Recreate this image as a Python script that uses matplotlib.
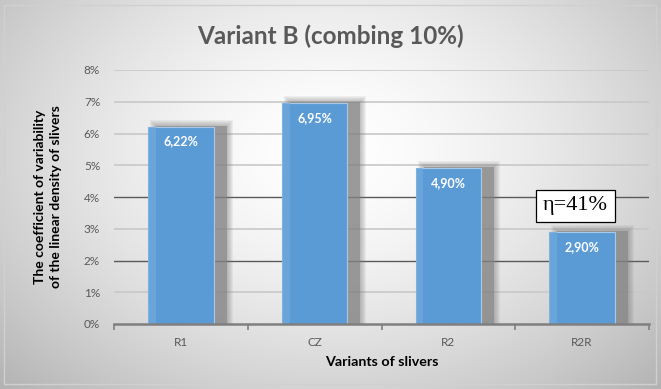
import numpy as np
import matplotlib
matplotlib.use("Agg")
import matplotlib.pyplot as plt
from matplotlib.patches import Rectangle

# Data
categories = ["R1", "CZ", "R2", "R2R"]
values = [6.22, 6.95, 4.90, 2.90]          # percent
value_labels = ["6,22%", "6,95%", "4,90%", "2,90%"]
yticks = [0, 1, 2, 3, 4, 5, 6, 7, 8]
ytick_labels = [f"{v}%" for v in yticks]
title = "Variant B (combing 10%)"
xlabel = "Variants of slivers"
ylabel = "The coefficient of variability\nof the linear density of slivers"
note_text = "η=41%"
note_pos = (3.0, 3.72)

W, H = 661, 389
fig = plt.figure(figsize=(W / 100, H / 100), dpi=100)
plt.rcParams["font.family"] = ["Lato", "DejaVu Sans"]

# Radial gradient background
bg = fig.add_axes([0, 0, 1, 1])
bg.set_axis_off()
yy, xx = np.mgrid[0:H, 0:W]
cx, cy = 330, 150
r = np.sqrt(((xx - cx) / 1.15) ** 2 + ((yy - cy) * 1.2) ** 2)
r = r / r.max()
shade = 1.0 - 0.30 * np.clip(r, 0, 1) ** 1.6
img = np.dstack([shade, shade, shade])
bg.imshow(img, extent=[0, W, H, 0], aspect="auto")
bg.set_xlim(0, W)
bg.set_ylim(H, 0)
bg.add_patch(Rectangle((4, 5), W - 9, H - 10, fill=False, ec="#d0d0d0", lw=1))

# Plot area
left, right, top, bottom = 114, 649, 70, 324
ax = fig.add_axes([left / W, 1 - bottom / H, (right - left) / W, (bottom - top) / H])
ax.patch.set_alpha(0)
x = np.arange(len(categories))
ax.set_xlim(-0.5, len(categories) - 0.5)
ax.set_ylim(0, 8)

# Gridlines
for v in yticks[1:]:
    dark = v in (2, 4)
    ax.axhline(v, color="#5a5a5a" if dark else "#c8c8c8", lw=1.0 if dark else 1.2, zorder=1)

bar_w = 0.49
px_x = 4.0 / (right - left)      # one pixel in x data units
px_y = 8.0 / (bottom - top)      # one pixel in y data units

# Soft shadows behind bars
for xi, v in zip(x, values):
    x0 = xi - bar_w / 2 + 8 * px_x
    x1 = xi + bar_w / 2 + 13 * px_x
    y1 = v + 1.0 * px_y
    for k in range(6, 0, -1):
        ax.add_patch(Rectangle((x0 - k * px_x, 0), (x1 - x0) + 2 * k * px_x,
                               y1 + k * px_y, color="#7a7a7a", alpha=0.09,
                               lw=0, zorder=2))
    ax.add_patch(Rectangle((x0, 0), x1 - x0, y1, color="#858585", alpha=0.65,
                           lw=0, zorder=2))

bars = ax.bar(x, values, width=bar_w, color="#5b9bd5", edgecolor="#a9c9ea",
              linewidth=0.8, zorder=3)
for b in bars:
    ax.add_patch(Rectangle((b.get_x(), 0), b.get_width() * 0.12, b.get_height(),
                           color="#6fa9dd", lw=0, zorder=3.5, alpha=0.7))

for xi, v, lab in zip(x, values, value_labels):
    ax.text(xi, v - 9 * px_y, lab, ha="center", va="top", color="white",
            fontsize=9, fontweight="bold", zorder=5)

# Axes styling
for s in ["top", "right", "left"]:
    ax.spines[s].set_visible(False)
ax.spines["bottom"].set_color("#7f7f7f")
ax.spines["bottom"].set_linewidth(1.8)
ax.spines["bottom"].set_zorder(6)
ax.set_yticks(yticks)
ax.set_yticklabels(ytick_labels, color="#595959", fontsize=8.5)
ax.tick_params(axis="y", length=0, pad=10)
ax.set_xticks(x)
ax.set_xticklabels(categories, color="#595959", fontsize=8.5)
ax.tick_params(axis="x", length=0, pad=9)
ax.set_xticks(np.arange(-0.5, len(categories), 1.0), minor=True)
ax.tick_params(axis="x", which="minor", length=4, width=1.2, color="#7f7f7f")

ax.set_xlabel(xlabel, fontsize=10.3, fontweight="bold", color="black", labelpad=6)
ax.set_ylabel(ylabel, fontsize=10, fontweight="bold", color="black", labelpad=16,
              linespacing=1.35)

fig.text(0.5, 1 - 36 / H, title, ha="center", va="center", fontsize=17.5,
         fontweight="bold", color="#595959")

ax.text(note_pos[0] - 0.05, note_pos[1], note_text, ha="center", va="center",
        fontsize=16, family=["Liberation Serif", "DejaVu Serif"], color="black",
        zorder=7, bbox=dict(boxstyle="square,pad=0.3", fc="white", ec="black", lw=0.9))

fig.savefig("out.png", dpi=100)
